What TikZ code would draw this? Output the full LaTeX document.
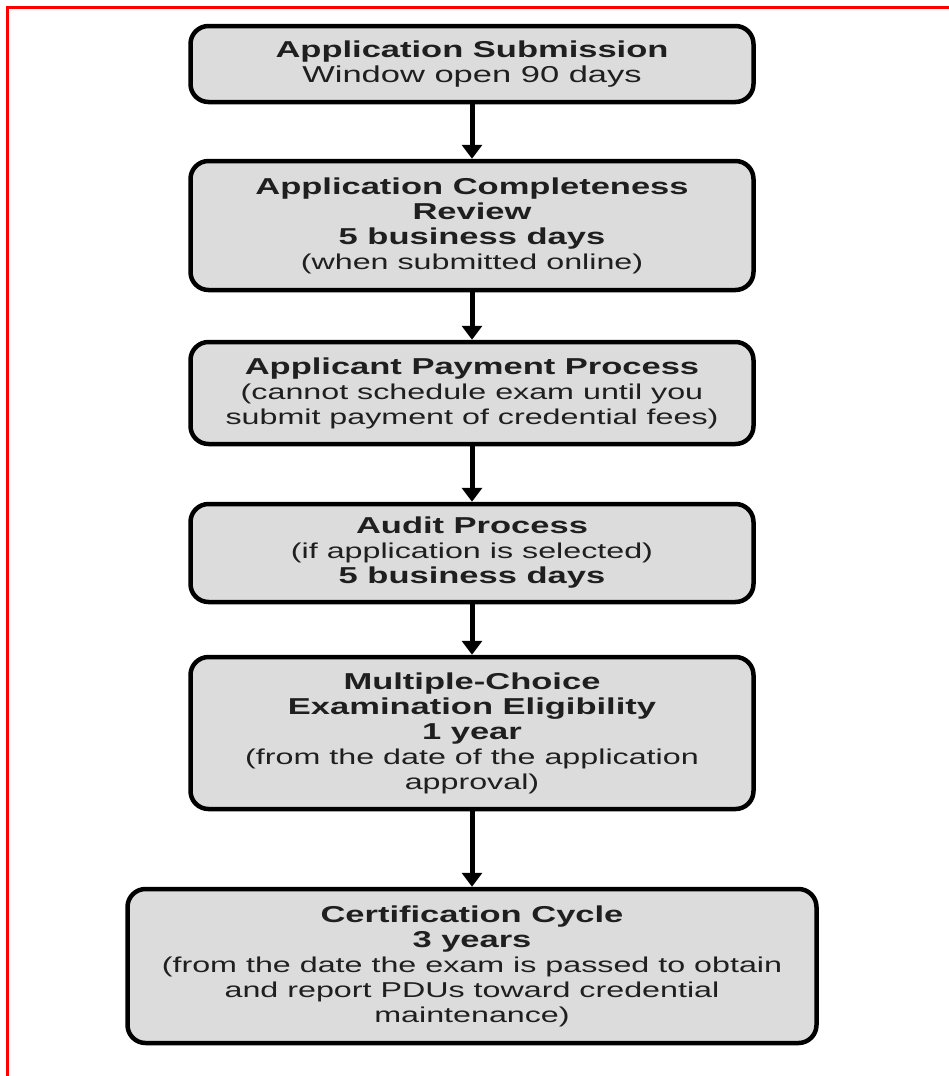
\documentclass[tikz,border=0pt]{standalone}
\usepackage{fontspec}
\newfontfamily\boxfont[FakeStretch=1.5]{Liberation Sans}
\usetikzlibrary{arrows.meta}
\definecolor{boxgrey}{RGB}{220,220,220}
\definecolor{frame}{RGB}{255,0,0}
\newcommand{\hd}[1]{{\bfseries #1}}
\newcommand{\sm}[1]{{\fontsize{21.5}{25}\selectfont #1}}

\begin{document}
\begin{tikzpicture}[
	x                = 1pt,
	y                = -1pt,
	stage/.style     = {draw, line width=4.5pt, rounded corners=18pt, fill=boxgrey,
	                    text=black!88, align=center, inner sep=0pt,
	                    minimum width=563pt,
	                    font=\boxfont\fontsize{23}{25}\selectfont},
	flow/.style      = {line width=5pt, -{Triangle[length=14pt, width=20pt]}}]
	\useasboundingbox (0,0) rectangle (949,1076);
	% red frame, top and left only
	\draw [frame, line width=3pt] (949,7) -- (7,7) -- (7,1076);
	\node [stage, minimum height=76pt]  (submit)  at (472,64)
	      {\hd{Application Submission}\\ Window open 90 days};
	\node [stage, minimum height=129pt] (review)  at (472,225.5)
	      {\hd{Application Completeness}\\ \hd{Review}\\ \hd{5 business days}\\ \sm{(when submitted online)}};
	\node [stage, minimum height=102pt] (payment) at (472,393)
	      {\hd{Applicant Payment Process}\\ \sm{(cannot schedule exam until you}\\ \sm{submit payment of credential fees)}};
	\node [stage, minimum height=98pt]  (audit)   at (472,553)
	      {\hd{Audit Process}\\ \sm{(if application is selected)}\\ \hd{5 business days}};
	\node [stage, minimum height=152pt] (exam)    at (472,733)
	      {\hd{Multiple-Choice}\\ \hd{Examination Eligibility}\\ \hd{1 year}\\ \sm{(from the date of the application}\\ \sm{approval)}};
	\node [stage, minimum height=154pt, minimum width=689pt] (cycle) at (472,966)
	      {\hd{Certification Cycle}\\ \hd{3 years}\\ \sm{(from the date the exam is passed to obtain}\\ \sm{and report PDUs toward credential}\\ \sm{maintenance)}};
	\draw [flow] (submit)  -- (review);
	\draw [flow] (review)  -- (payment);
	\draw [flow] (payment) -- (audit);
	\draw [flow] (audit)   -- (exam);
	\draw [flow] (exam)    -- (cycle);
\end{tikzpicture}
\end{document}
